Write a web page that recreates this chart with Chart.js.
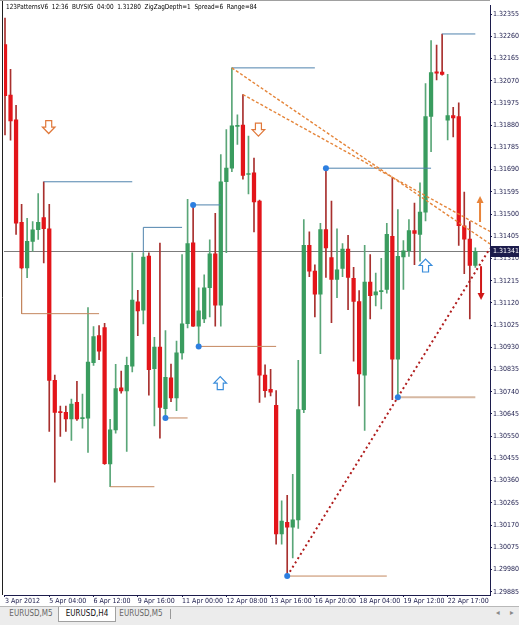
<!DOCTYPE html>
<html>
<head>
<meta charset="utf-8">
<script src="https://cdn.jsdelivr.net/npm/chart.js@4.4.0/dist/chart.umd.min.js"></script>
<style>
  html, body { margin: 0; padding: 0; background: #fff; }
  body { width: 519px; height: 625px; overflow: hidden; position: relative;
         font-family: "DejaVu Sans Condensed", "Liberation Sans", Arial, sans-serif; }
  #wrap { position: absolute; left: 0; top: 0; width: 519px; height: 606px; }
  #tabs { position: absolute; left: 0; top: 606px; width: 519px; height: 19px; background: #ececec;
          border-top: 1px solid #b8b8b8; }
  .tab { position: absolute; top: 0; height: 14px; line-height: 14px; font-size: 8px; color: #666;
         text-align: center; }
  .tab.act { background: #fff; color: #111; border: 1px solid #a0a0a0; border-top: none; height: 14px; }
  .sep { position: absolute; top: 2px; width: 1px; height: 10px; background: #999; }
  .arr { position: absolute; top: 1px; font-size: 8px; color: #888; }
</style>
</head>
<body>
<div id="wrap"><canvas id="chart" width="519" height="606"></canvas></div>
<div id="tabs">
  <div class="tab" style="left:4px;width:54px">EURUSD,M5</div>
  <div class="tab act" style="left:58px;width:56px">EURUSD,H4</div>
  <div class="tab" style="left:115px;width:52px">EURUSD,M5</div>
  <div class="sep" style="left:170px"></div>
  <div class="arr" style="left:496px">&#9666;</div>
  <div class="arr" style="left:510px">&#9656;</div>
</div>
<script>
// ---------- EURUSD H4 candles (bar 0 .. 85) ----------
const opens = [
  1.32225, 1.32009, 1.31903, 1.31465, 1.31270, 1.31383, 1.31433, 1.31485, 1.31437, 1.30789,
  1.30655, 1.30652, 1.30624, 1.30695, 1.30625, 1.30627, 1.30864, 1.30980, 1.31015, 1.30432,
  1.30577, 1.30757, 1.30744, 1.30850, 1.31125, 1.31089, 1.31320, 1.30839, 1.30931, 1.30668,
  1.30800, 1.30714, 1.30906, 1.31031, 1.31377, 1.31020, 1.31052, 1.31185, 1.31330, 1.31110,
  1.31638, 1.31696, 1.31875, 1.31880, 1.31669, 1.31676, 1.31555, 1.30811, 1.30750, 1.30682,
  1.30132, 1.30182, 1.30161, 1.30192, 1.30664, 1.31366, 1.31256, 1.31157, 1.31434, 1.31314,
  1.31220, 1.31267, 1.31350, 1.31225, 1.31126, 1.30811, 1.31209, 1.31154, 1.31168, 1.31178,
  1.31405, 1.30879, 1.31317, 1.31343, 1.31429, 1.31413, 1.31508, 1.31917, 1.32108, 1.32107,
  1.31901, 1.31921, 1.31917, 1.31450, 1.31393, 1.31280
];
const highs = [
  1.32338, 1.32119, 1.31965, 1.31541, 1.31482, 1.31468, 1.31588, 1.31638, 1.31542, 1.30811,
  1.30679, 1.30679, 1.30709, 1.30785, 1.30730, 1.31100, 1.31019, 1.31023, 1.31033, 1.30622,
  1.30857, 1.30828, 1.30888, 1.31334, 1.31174, 1.31334, 1.31334, 1.30973, 1.31376, 1.31002,
  1.30858, 1.30957, 1.31327, 1.31563, 1.31539, 1.31185, 1.31240, 1.31390, 1.31503, 1.31754,
  1.31861, 1.32125, 1.31924, 1.32011, 1.31833, 1.31739, 1.31560, 1.30855, 1.30836, 1.30745,
  1.30274, 1.30297, 1.30387, 1.30874, 1.31476, 1.31424, 1.31283, 1.31460, 1.31696, 1.31555,
  1.31437, 1.31374, 1.31409, 1.31272, 1.31173, 1.31366, 1.31327, 1.31248, 1.31311, 1.31460,
  1.31657, 1.31519, 1.31386, 1.31476, 1.31547, 1.31633, 1.32058, 1.32242, 1.32223, 1.32270,
  1.32097, 1.31956, 1.31975, 1.31594, 1.31468, 1.31355
];
const lows = [
  1.31838, 1.31816, 1.31413, 1.31265, 1.31228, 1.31341, 1.31392, 1.31291, 1.30570, 1.30353,
  1.30549, 1.30570, 1.30532, 1.30617, 1.30584, 1.30481, 1.30853, 1.30877, 1.30429, 1.30334,
  1.30563, 1.30734, 1.30485, 1.30825, 1.30980, 1.31030, 1.30726, 1.30594, 1.30542, 1.30628,
  1.30698, 1.30659, 1.30879, 1.31013, 1.31019, 1.30934, 1.31036, 1.31060, 1.31020, 1.31020,
  1.31335, 1.31681, 1.31798, 1.31649, 1.31586, 1.31424, 1.30695, 1.30717, 1.30722, 1.30088,
  1.30088, 1.29952, 1.30030, 1.30156, 1.30651, 1.31232, 1.31060, 1.30903, 1.31229, 1.31036,
  1.31142, 1.31232, 1.31091, 1.30871, 1.30679, 1.30575, 1.31052, 1.31107, 1.31094, 1.31162,
  1.30706, 1.30717, 1.31178, 1.31319, 1.31283, 1.31299, 1.31471, 1.31767, 1.32073, 1.32094,
  1.31817, 1.31830, 1.31366, 1.31245, 1.31052, 1.31272
];
const closes = [
  1.32006, 1.31898, 1.31461, 1.31270, 1.31383, 1.31433, 1.31465, 1.31437, 1.30789, 1.30652,
  1.30651, 1.30624, 1.30687, 1.30624, 1.30627, 1.30867, 1.30976, 1.30914, 1.30433, 1.30577,
  1.30754, 1.30744, 1.30853, 1.31132, 1.31086, 1.31316, 1.30835, 1.30931, 1.30673, 1.30802,
  1.30714, 1.30906, 1.31031, 1.31374, 1.31020, 1.31086, 1.31185, 1.31330, 1.31110, 1.31638,
  1.31696, 1.31877, 1.31877, 1.31665, 1.31673, 1.31552, 1.30811, 1.30745, 1.30738, 1.30132,
  1.30187, 1.30161, 1.30192, 1.30664, 1.31366, 1.31256, 1.31157, 1.31434, 1.31355, 1.31220,
  1.31261, 1.31350, 1.31229, 1.31126, 1.30816, 1.31209, 1.31151, 1.31167, 1.31170, 1.31413,
  1.30879, 1.31319, 1.31343, 1.31429, 1.31417, 1.31508, 1.31917, 1.32105, 1.32102, 1.32097,
  1.31921, 1.31911, 1.31450, 1.31393, 1.31280, 1.31341
];

// ---------- axes ----------
const tickBars = [0, 8, 16, 24, 32, 40, 48, 56, 64, 72, 80];
const timeLabels = ["3 Apr 2012", "5 Apr 04:00", "6 Apr 12:00", "9 Apr 16:00", "11 Apr 00:00",
  "12 Apr 08:00", "13 Apr 16:00", "16 Apr 20:00", "18 Apr 04:00", "19 Apr 12:00", "22 Apr 17:00"];
const priceTicks = [1.29885, 1.29980, 1.30075, 1.30170, 1.30265, 1.30360, 1.30455, 1.30550,
  1.30645, 1.30740, 1.30835, 1.30930, 1.31025, 1.31120, 1.31215, 1.31310, 1.31405, 1.31500,
  1.31595, 1.31690, 1.31785, 1.31880, 1.31975, 1.32070, 1.32165, 1.32260, 1.32355];
const currentPrice = 1.31341;
const headerText = "123PatternsV6  12:36  BUYSIG  04:00  1.31280  ZigZagDepth=1  Spread=6  Range=84";

// ---------- 123 pattern marks ----------
// [startBar, endBar, level]
const lowLevels = [[3, 17, 1.31074], [19, 27, 1.30334], [29, 33, 1.30628], [35, 49, 1.30934],
  [51, 69, 1.29952], [71, 85, 1.30717]];
const highLevels = [[7, 23, 1.31638], [25, 32, 1.31443], [34, 39, 1.31539], [41, 56, 1.32125],
  [58, 77, 1.31696], [79, 85, 1.32270]];
const pivotLowBars = [29, 35, 51, 71];
const pivotHighBars = [34, 58];
// trend lines through two pivots: [fromBar, throughBar]
const highTrends = [[41, 70], [43, 70]];
const lowTrends = [[51, 71]];
// arrows: [bar, price]
const sellMarks = [[7.9, 1.31872], [45.8, 1.31861]];
const buyMarks = [[38.9, 1.30777], [76.0, 1.31280]];
const targetUp = [85.85, 1.31466, 1.31577];
const targetDown = [86.03, 1.31277, 1.31132];

const xMin = -0.18, xMax = 87.65;
const upBody = "#3a9c5f", downBody = "#e3151a";
const upWick = "#5aa678", downWick = "#a8302e";
const axisColor = "#1c1c4c";
const font = { family: '"DejaVu Sans Condensed", "Liberation Sans", Arial, sans-serif', size: 7 };

const barIndex = opens.map((_, i) => i);
const isUp = (i) => closes[i] >= opens[i];

const datasets = [];

// pivot dots
datasets.push({
  type: "scatter",
  data: pivotLowBars.map((b) => ({ x: b, y: lows[b] }))
    .concat(pivotHighBars.map((b) => ({ x: b, y: highs[b] }))),
  pointRadius: 3, pointBackgroundColor: "#2d7fe0", pointBorderWidth: 0, order: 0,
});

// trend lines
highTrends.forEach(([a, b]) => {
  const slope = (highs[b] - highs[a]) / (b - a);
  datasets.push({
    type: "line",
    data: [{ x: a, y: highs[a] }, { x: xMax, y: highs[a] + slope * (xMax - a) }],
    borderColor: "#e5853a", borderWidth: 1.4, borderDash: [3, 2], pointRadius: 0, order: 1,
  });
});
lowTrends.forEach(([a, b]) => {
  const slope = (lows[b] - lows[a]) / (b - a);
  datasets.push({
    type: "line",
    data: [{ x: a, y: lows[a] }, { x: xMax, y: lows[a] + slope * (xMax - a) }],
    borderColor: "#b01c1c", borderWidth: 2, borderDash: [2, 3], pointRadius: 0, order: 1,
  });
});

// level lines (the newest low level is drawn wider and paler)
lowLevels.forEach(([s, e, lv], k) => {
  const last = k === lowLevels.length - 1;
  datasets.push({
    type: "line",
    data: [{ x: s, y: lows[s] }, { x: s, y: lv }, { x: e, y: lv }],
    borderColor: last ? "#d6b8a2" : "#c4875e", borderWidth: last ? 2 : 1, pointRadius: 0, order: 2,
  });
});
highLevels.forEach(([s, e, lv]) => {
  datasets.push({
    type: "line",
    data: [{ x: s, y: highs[s] }, { x: s, y: lv }, { x: e, y: lv }],
    borderColor: "#4f83ad", borderWidth: 1, pointRadius: 0, order: 2,
  });
});

// candle bodies and wicks
datasets.push({
  type: "bar",
  data: barIndex.map((i) => ({ x: i, y: [opens[i], closes[i]] })),
  backgroundColor: (c) => (isUp(c.dataIndex) ? upBody : downBody),
  barThickness: 3.6, minBarLength: 1, grouped: false, borderWidth: 0, order: 3,
});
datasets.push({
  type: "bar",
  data: barIndex.map((i) => ({ x: i, y: [lows[i], highs[i]] })),
  backgroundColor: (c) => (isUp(c.dataIndex) ? upWick : downWick),
  barThickness: 1, grouped: false, borderWidth: 0, order: 4,
});

function hollowArrow(ctx, x, y, dir, color) {
  ctx.save();
  ctx.translate(x, y);
  ctx.scale(1, dir);
  ctx.beginPath();
  ctx.moveTo(-3, -6.5);
  ctx.lineTo(3, -6.5);
  ctx.lineTo(3, 0);
  ctx.lineTo(6.3, 0);
  ctx.lineTo(0, 6.5);
  ctx.lineTo(-6.3, 0);
  ctx.lineTo(-3, 0);
  ctx.closePath();
  ctx.fillStyle = "#ffffff";
  ctx.fill();
  ctx.lineWidth = 1.2;
  ctx.strokeStyle = color;
  ctx.stroke();
  ctx.restore();
}

function solidArrow(ctx, x, yFrom, yTo, color) {
  const dir = yTo > yFrom ? 1 : -1;
  ctx.save();
  ctx.strokeStyle = color;
  ctx.fillStyle = color;
  ctx.lineWidth = 2;
  ctx.beginPath();
  ctx.moveTo(x, yFrom);
  ctx.lineTo(x, yTo - dir * 5);
  ctx.stroke();
  ctx.beginPath();
  ctx.moveTo(x - 3.5, yTo - dir * 7);
  ctx.lineTo(x + 3.5, yTo - dir * 7);
  ctx.lineTo(x, yTo);
  ctx.closePath();
  ctx.fill();
  ctx.restore();
}

const mtExtras = {
  id: "mtExtras",
  beforeDatasetsDraw(chart) {
    const { ctx, chartArea: a, scales } = chart;
    const py = Math.round(scales.y.getPixelForValue(currentPrice)) + 0.5;
    ctx.save();
    ctx.strokeStyle = "#7c7c7c";
    ctx.lineWidth = 1;
    ctx.beginPath();
    ctx.moveTo(a.left, py);
    ctx.lineTo(a.right, py);
    ctx.stroke();
    ctx.restore();
  },
  afterDraw(chart) {
    const { ctx, chartArea: a, scales } = chart;
    const X = (v) => scales.x.getPixelForValue(v);
    const Y = (v) => scales.y.getPixelForValue(v);

    sellMarks.forEach(([b, p]) => hollowArrow(ctx, X(b), Y(p), 1, "#e0783a"));
    buyMarks.forEach(([b, p]) => hollowArrow(ctx, X(b), Y(p), -1, "#3a8ddb"));
    solidArrow(ctx, X(targetUp[0]), Y(targetUp[1]), Y(targetUp[2]), "#e8843a");
    solidArrow(ctx, X(targetDown[0]), Y(targetDown[1]), Y(targetDown[2]), "#d01818");

    // frame
    ctx.save();
    ctx.strokeStyle = "#202020";
    ctx.lineWidth = 1;
    ctx.beginPath();
    ctx.moveTo(2.5, 0);
    ctx.lineTo(2.5, a.bottom);
    ctx.stroke();
    ctx.strokeStyle = "#a0a0a0";
    ctx.beginPath();
    ctx.moveTo(0, 0.5);
    ctx.lineTo(a.right, 0.5);
    ctx.stroke();

    // header
    ctx.font = '7px "DejaVu Sans Condensed", "Liberation Sans", Arial, sans-serif';
    ctx.fillStyle = "#000000";
    ctx.textBaseline = "middle";
    const w = ctx.measureText(headerText).width;
    ctx.translate(6, 7.5);
    ctx.scale(251 / w, 1);
    ctx.fillText(headerText, 0, 0);
    ctx.restore();

    // current price box
    const py = Y(currentPrice);
    ctx.save();
    ctx.fillStyle = axisColor;
    ctx.fillRect(a.right + 1, Math.round(py) - 5, 28, 11);
    ctx.fillStyle = "#ffffff";
    ctx.font = '7px "DejaVu Sans Condensed", "Liberation Sans", Arial, sans-serif';
    ctx.textBaseline = "middle";
    ctx.fillText(currentPrice.toFixed(5), a.right + 3, Math.round(py) + 0.5);
    ctx.restore();
  },
};

new Chart(document.getElementById("chart"), {
  type: "bar",
  data: { datasets },
  plugins: [mtExtras],
  options: {
    responsive: false,
    animation: false,
    layout: { padding: { left: 2, top: 2, right: 0, bottom: 0 } },
    plugins: { legend: { display: false }, tooltip: { enabled: false } },
    scales: {
      x: {
        type: "linear",
        min: xMin,
        max: xMax,
        offset: false,
        afterBuildTicks: (s) => { s.ticks = tickBars.map((v) => ({ value: v })); },
        afterFit: (s) => { s.height = 11; },
        grid: { display: true, drawOnChartArea: false, offset: false, tickLength: 2, color: axisColor },
        border: { display: true, color: axisColor },
        ticks: {
          autoSkip: false, maxRotation: 0, align: "start", padding: 0, color: axisColor, font,
          callback: (v) => timeLabels[tickBars.indexOf(v)],
        },
      },
      y: {
        position: "right",
        min: 1.29871,
        max: 1.32393,
        afterBuildTicks: (s) => { s.ticks = priceTicks.map((v) => ({ value: v })); },
        afterFit: (s) => { s.width = 29; },
        grid: { display: true, drawOnChartArea: false, tickLength: 2, color: axisColor },
        border: { display: true, color: axisColor },
        ticks: { autoSkip: false, padding: 1, color: axisColor, font, callback: (v) => v.toFixed(5) },
      },
    },
  },
});
</script>
</body>
</html>
